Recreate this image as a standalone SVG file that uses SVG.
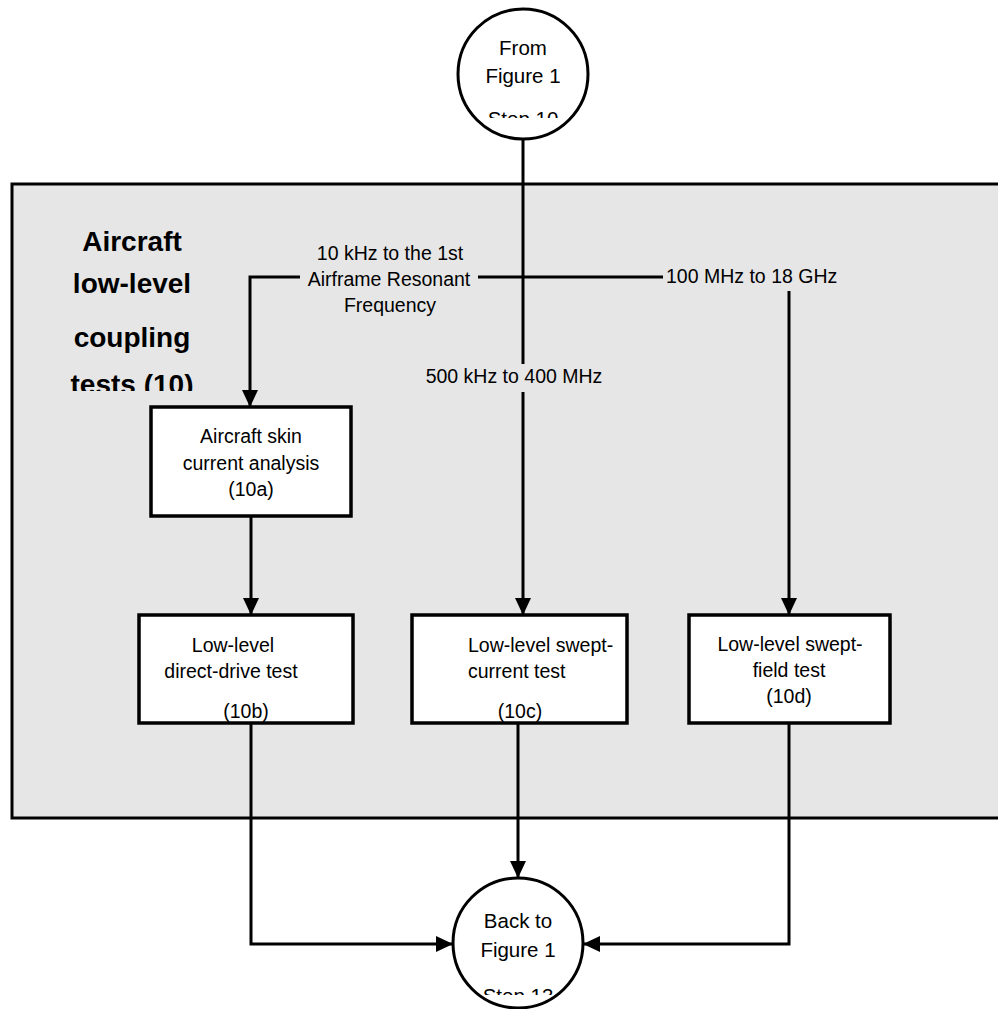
<svg xmlns="http://www.w3.org/2000/svg" width="998" height="1009" viewBox="0 0 998 1009">
<style>
.t{font-family:"Liberation Sans",Arial,sans-serif;font-size:19.5px;fill:#000;}
.c{font-family:"Liberation Sans",Arial,sans-serif;font-size:20.5px;fill:#000;text-anchor:middle;}
.m{text-anchor:middle;}
.ttl{font-family:"Liberation Sans",Arial,sans-serif;font-size:28px;font-weight:bold;fill:#000;text-anchor:middle;}
.box{fill:#fff;stroke:#000;stroke-width:3.5;}
.circ{fill:#fff;stroke:#000;stroke-width:3;}
.ln{fill:none;stroke:#000;stroke-width:3;}
</style>
<defs>
<marker id="ah" markerUnits="userSpaceOnUse" markerWidth="18" markerHeight="18" viewBox="0 0 18 18" refX="17" refY="9" orient="auto">
<path d="M0,1 L17,9 L0,17 Z" fill="#000"/>
</marker>
<clipPath id="clipTop"><rect x="440" y="0" width="170" height="118"/></clipPath>
<clipPath id="clipBot"><rect x="440" y="860" width="170" height="135"/></clipPath>
<clipPath id="clipTitle"><rect x="20" y="200" width="230" height="191"/></clipPath>
</defs>

<g id="panel">
<rect x="12" y="184" width="1000" height="634" fill="#e6e6e6" stroke="#000" stroke-width="3"/>
<g clip-path="url(#clipTitle)">
<text class="ttl" x="132" y="251">Aircraft</text>
<text class="ttl" x="132" y="293">low-level</text>
<text class="ttl" x="132" y="347">coupling</text>
<text class="ttl" x="132" y="394">tests (10)</text>
</g>
</g>

<g id="connectors">
<line class="ln" x1="523" y1="139" x2="523" y2="364" stroke-width="4"/>
<line class="ln" x1="523" y1="392" x2="523" y2="615" marker-end="url(#ah)"/>
<polyline class="ln" points="300,277 250,277 250,407" marker-end="url(#ah)"/>
<line class="ln" x1="478" y1="277" x2="663" y2="277"/>
<line class="ln" x1="789" y1="291" x2="789" y2="615" marker-end="url(#ah)"/>
<line class="ln" x1="251" y1="516" x2="251" y2="615" marker-end="url(#ah)"/>
<polyline class="ln" points="251,723 251,944 453,944" marker-end="url(#ah)"/>
<line class="ln" x1="518" y1="723" x2="518" y2="878" marker-end="url(#ah)"/>
<polyline class="ln" points="789,723 789,944 583,944" marker-end="url(#ah)"/>
<text class="t m" x="390" y="260">10 kHz to the 1st</text>
<text class="t m" x="389" y="286">Airframe Resonant</text>
<text class="t m" x="390" y="312">Frequency</text>
<text class="t" x="666" y="283">100 MHz to 18 GHz</text>
<text class="t m" x="514" y="383">500 kHz to 400 MHz</text>
</g>

<g id="start">
<circle class="circ" cx="523" cy="74" r="65"/>
<text class="c" x="523" y="55">From</text>
<text class="c" x="523" y="83">Figure 1</text>
<text class="c" x="523" y="126" clip-path="url(#clipTop)">Step 10</text>
</g>

<g id="n10a">
<rect class="box" x="151" y="407" width="200" height="109"/>
<text class="t m" x="251" y="443">Aircraft skin</text>
<text class="t m" x="251" y="470">current analysis</text>
<text class="t m" x="251" y="496">(10a)</text>
</g>

<g id="n10b">
<rect class="box" x="139" y="615" width="214" height="108"/>
<text class="t m" x="233" y="652">Low-level</text>
<text class="t m" x="231" y="678">direct-drive test</text>
<text class="t m" x="246" y="718">(10b)</text>
</g>

<g id="n10c">
<rect class="box" x="412" y="615" width="215" height="108"/>
<text class="t" x="468" y="652">Low-level swept-</text>
<text class="t" x="468" y="678">current test</text>
<text class="t m" x="520" y="718">(10c)</text>
</g>

<g id="n10d">
<rect class="box" x="689" y="615" width="201" height="108"/>
<text class="t m" x="790" y="651">Low-level swept-</text>
<text class="t m" x="789" y="677">field test</text>
<text class="t m" x="789" y="703">(10d)</text>
</g>

<g id="end">
<circle class="circ" cx="518" cy="943" r="65"/>
<text class="c" x="518" y="928">Back to</text>
<text class="c" x="518" y="957">Figure 1</text>
<text class="c" x="518" y="1003" clip-path="url(#clipBot)">Step 13</text>
</g>
</svg>
